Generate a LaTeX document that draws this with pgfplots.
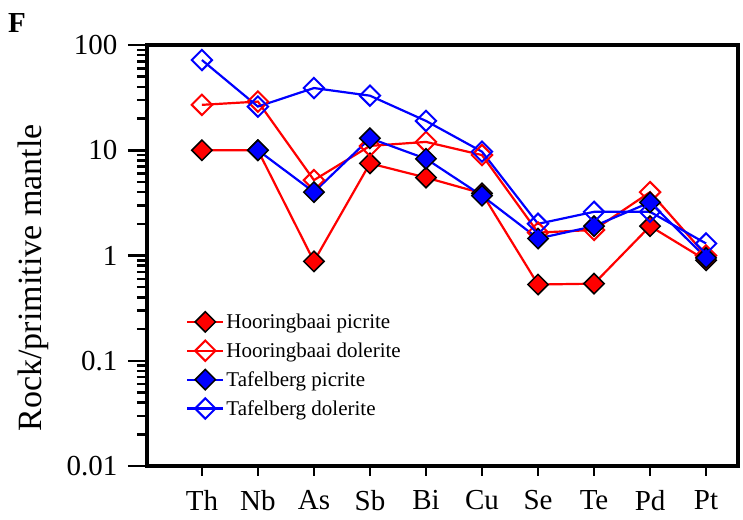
\documentclass[border=0pt]{standalone}
\usepackage{fontspec}
\setmainfont{Liberation Serif}
\usepackage{pgfplots}
\pgfplotsset{compat=1.18}

\begin{document}
\begin{tikzpicture}
% ticks of 10pt: categories on x, minor decades on y
\begin{axis}[
  scale only axis, width=591pt, height=421pt,
  ymode=log, ymin=0.01, ymax=100,
  xmin=-0.98, xmax=9.57,
  tick align=outside,
  xtick pos=left, ytick pos=left,
  tick style={line width=2.5pt, black},
  ticklabel style={font=\fontsize{29}{29}\selectfont},
  axis line style={draw=none},
  xtick=\empty, ytick=\empty,
  extra x ticks={0,1,2,3,4,5,6,7,8,9},
  extra x tick labels={Th,Nb,As,Sb,Bi,Cu,Se,Te,Pd,Pt},
  xticklabel style={yshift=-11pt},
  extra y ticks={0.02,0.03,0.04,0.05,0.06,0.07,0.08,0.09,
    0.2,0.3,0.4,0.5,0.6,0.7,0.8,0.9,2,3,4,5,6,7,8,9,20,30,40,50,60,70,80,90},
  extra y tick labels={},
  major tick length=10pt,
]
\end{axis}
\begin{axis}[
  scale only axis, width=591pt, height=421pt,
  ymode=log, ymin=0.01, ymax=100,
  xmin=-0.98, xmax=9.57,
  tick align=outside,
  xtick pos=left, ytick pos=left,
  tick style={line width=2.5pt, black},
  ticklabel style={font=\fontsize{29}{29}\selectfont},
  xtick=\empty, ytick=\empty,
  extra y ticks={0.01,0.1,1,10,100},
  extra y tick labels={0.01,0.1,1,10,100},
  major tick length=19pt,
  yticklabel style={xshift=-7pt},
  axis line style={line width=3.2pt},
  ylabel={Rock/primitive mantle},
  ylabel style={font=\fontsize{34}{34}\selectfont, at={(axis description cs:-0.16,0.447)}, anchor=south},
  legend style={draw=none, fill=none, at={(rel axis cs:0.066,0.367)}, anchor=north west,
    font=\fontsize{21}{21}\selectfont, row sep=8.5pt, inner sep=0pt},
  legend cell align=left,
  legend image code/.code={\draw[mark repeat=2,mark phase=2] plot coordinates {(0pt,0pt)(18pt,0pt)(36pt,0pt)};},
  every axis plot/.append style={line width=2.2pt},
]
\addplot[red, mark=square*, mark size=7.2pt, mark options={rotate=45, draw=black, fill=red, line width=1.5pt}]
  coordinates {(0,10)(1,10)(2,0.88)(3,7.5)(4,5.5)(5,3.9)(6,0.53)(7,0.54)(8,1.9)(9,0.9)};
\addlegendentry{Hooringbaai picrite}
\addplot[red, mark=square, mark size=7.2pt, mark options={rotate=45, line width=2pt}]
  coordinates {(0,27)(1,29)(2,5.2)(3,11)(4,12)(5,9)(6,1.65)(7,1.75)(8,4.0)(9,1.0)};
\addlegendentry{Hooringbaai dolerite}
\addplot[blue, mark=square*, mark size=7.2pt, mark options={rotate=45, draw=black, fill=blue, line width=1.5pt}]
  coordinates {(1,10)(2,4.0)(3,13)(4,8.3)(5,3.7)(6,1.45)(7,1.9)(8,3.2)(9,0.95)};
\addlegendentry{Tafelberg picrite}
\addplot[blue, mark=square, mark size=7.2pt, mark options={rotate=45, line width=2pt}]
  coordinates {(0,72)(1,26)(2,39)(3,33)(4,19)(5,9.7)(6,2.0)(7,2.6)(8,2.6)(9,1.3)};
\addlegendentry{Tafelberg dolerite}
\end{axis}
\node[font=\fontsize{29}{29}\selectfont\bfseries] at (current axis.north west) [xshift=-130pt, yshift=22pt] {F};
\path (current axis.south west) ++(-147pt,-53pt) rectangle ++(743pt,519pt);
\end{tikzpicture}
\end{document}
